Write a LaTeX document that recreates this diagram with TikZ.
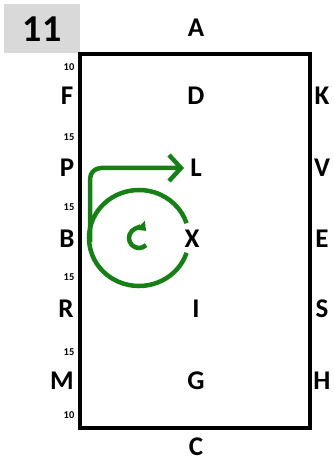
\documentclass[tikz,border=0pt]{standalone}
\usepackage{fontspec}
\setmainfont{Carlito}
\usetikzlibrary{arrows.meta}
\definecolor{grn}{RGB}{22,128,22}
\definecolor{boxgray}{RGB}{217,217,217}
\begin{document}
\begin{tikzpicture}[x=1pt,y=-1pt,
  lbl/.style={font=\fontsize{27}{27}\selectfont\bfseries,inner sep=0pt,anchor=center},
  num/.style={font=\fontsize{10.5}{10.5}\selectfont\bfseries,inner sep=0pt,anchor=center},
  grnline/.style={draw=grn,line width=4.5pt}]
\useasboundingbox (0,0) rectangle (333,462);
% title box
\node[fill=boxgray,minimum width=76pt,minimum height=49pt,inner sep=0pt,anchor=north west,
  font=\fontsize{38}{38}\selectfont\bfseries] (title) at (4,4) {11};
% frame
\draw[line width=4.5pt] (80,54) rectangle (310,428);
% top/bottom
\node[lbl] (A) at (196,28) {A};
\node[lbl] (C) at (196,447) {C};
% centre column
\node[lbl] (D) at (196,96) {D};
\node[lbl] (L) at (196,168) {L};
\node[lbl] (X) at (192,239) {X};
\node[lbl] (I) at (196,309) {I};
\node[lbl] (G) at (196,381) {G};
% left
\node[lbl] (F) at (67,96) {F};
\node[lbl] (P) at (67,168) {P};
\node[lbl] (B) at (67,239) {B};
\node[lbl] (R) at (66,309) {R};
\node[lbl] (M) at (62,381) {M};
% right
\node[lbl] (K) at (322,96) {K};
\node[lbl] (V) at (322,168) {V};
\node[lbl] (E) at (322,239) {E};
\node[lbl] (S) at (322,309) {S};
\node[lbl] (H) at (322,381) {H};
% distances
\node[num] (n1) at (69,67) {10};
\node[num] (n2) at (69,137) {15};
\node[num] (n3) at (69,207) {15};
\node[num] (n4) at (69,277) {15};
\node[num] (n5) at (69,352) {15};
\node[num] (n6) at (69,415) {10};
% green circle (gap on the right, towards X)
\coordinate (cc) at (139,238);
\draw[grnline] ([shift={(18:50 and 48)}]cc) arc[start angle=18,end angle=342,x radius=50,y radius=48];
% green arrow to L
\coordinate (s) at (90,242);
\draw[grnline,rounded corners=11pt,-{Straight Barb[length=12pt,width=26pt]}] (s) |- ([xshift=-6pt]L.west);
% small clockwise icon
\coordinate (ic) at (139,238);
\draw[draw=grn,line width=4.5pt,-{Triangle[length=8pt,width=12pt]}]
  ([shift={(45:10)}]ic) arc[start angle=45,end angle=315,radius=10];
\end{tikzpicture}
\end{document}
